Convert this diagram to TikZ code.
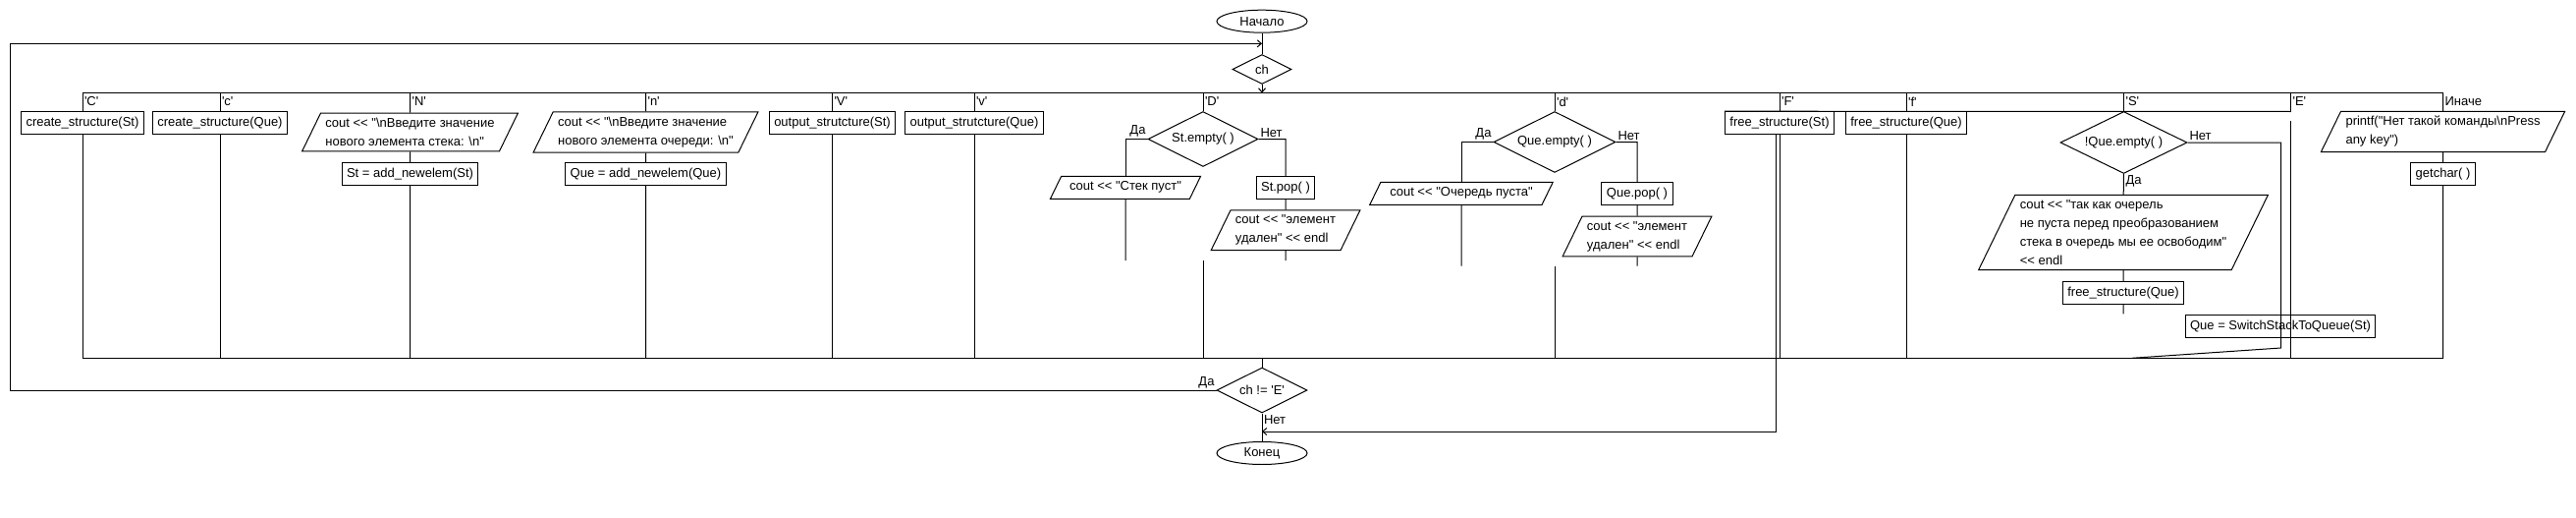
\documentclass[tikz,border=0pt]{standalone}
\usepackage{fontspec}
\newfontfamily\flowfont{Liberation Sans}
\usetikzlibrary{shapes.geometric,arrows.meta,positioning}

\begin{document}
\begin{tikzpicture}[x=1pt, y=-1pt, line width=1pt,
	font=\flowfont\fontsize{13}{19}\selectfont,
	term/.style={draw, ellipse, minimum width=92, minimum height=23, inner sep=0pt},
	proc/.style={draw, minimum height=22.6, inner xsep=5pt, inner ysep=0pt},
	io/.style={draw, trapezium, trapezium left angle=64, trapezium right angle=116,
		align=left, minimum height=23, inner xsep=5pt, inner ysep=5pt},
	dec/.style={draw, diamond, aspect=2, inner sep=0pt},
	lbl/.style={inner sep=1.5pt},
	flow/.style={-{Straight Barb[length=4pt, width=7pt]}}]
	\useasboundingbox (0,0) rectangle (2623,527);

	\node[term] (start) at (1285,21.7) {Начало};
	\node[dec, minimum width=60, minimum height=30] (ch) at (1285,70.5) {ch};
	\coordinate (looptop) at (1285,44.3);
	\coordinate (loopcorner) at (10.5,44.3);
	\coordinate (topbar) at (1285,94.5);
	\coordinate (botbar) at (1285,364.3);

	\node[proc] (crSt) at (84,125) {create\_structure(St)};
	\node[proc] (crQue) at (224,125) {create\_structure(Que)};
	\node[io] (addSt1) at (417.5,134.5) {cout << "\textbackslash nВведите значение\\нового элемента стека: \textbackslash n"};
	\node[proc] (addSt2) at (417.5,177) {St = add\_newelem(St)};
	\node[io] (addQue1) at (657.5,134.5) {cout << "\textbackslash nВведите значение\\нового элемента очереди: \textbackslash n"};
	\node[proc] (addQue2) at (657.5,177) {Que = add\_newelem(Que)};
	\node[proc] (outSt) at (847.5,125) {output\_strutcture(St)};
	\node[proc] (outQue) at (992,125) {output\_strutcture(Que)};

	\node[dec, minimum width=112, minimum height=56] (delSt) at (1225,141.5) {St.empty( )};
	\node[io] (delSt1) at (1146,190.8) {cout << "Стек пуст"};
	\node[proc] (delSt2) at (1309,191) {St.pop( )};
	\node[io] (delSt3) at (1309,234.3) {cout << "элемент\\удален" << endl};
	\coordinate (delStEnd) at (1225,265);

	\node[dec, minimum width=124, minimum height=62] (delQue) at (1583,144.5) {Que.empty( )};
	\node[io] (delQue1) at (1488,196.8) {cout << "Очередь пуста"};
	\node[proc] (delQue2) at (1667,196.8) {Que.pop( )};
	\node[io] (delQue3) at (1667,240.5) {cout << "элемент\\удален" << endl};
	\coordinate (delQueEnd) at (1583,270.7);

	\node[proc] (frSt) at (1812,125) {free\_structure(St)};
	\node[proc] (frQue) at (1941,125) {free\_structure(Que)};

	\node[dec, minimum width=129, minimum height=63] (sw) at (2162.5,145) {!Que.empty( )};
	\node[io] (sw1) at (2162,236.5) {cout << "так как очерель\\не пуста перед преобразованием\\стека в очередь мы ее освободим"\\<< endl};
	\node[proc] (sw2) at (2162,297.8) {free\_structure(Que)};
	\node[proc] (sw3) at (2322,332) {Que = SwitchStackToQueue(St)};
	\coordinate (swEnd) at (2162,319.3);
	\coordinate (swTurn) at (2322.5,354);
	\coordinate (swJoin) at (2171,364.3);

	\coordinate (exCorner) at (2332.5,113.5);
	\coordinate (exStart) at (2332.5,123.3);

	\node[io] (other1) at (2487.5,134) {printf("Нет такой команды\textbackslash nPress\\any key")};
	\node[proc] (other2) at (2487.5,177) {getchar( )};

	\node[dec, minimum width=92, minimum height=46] (cond) at (1285,397) {ch != 'E'};
	\node[term] (stop) at (1285,461) {Конец};
	\coordinate (quit) at (1808.3,439);

	\node[lbl, anchor=west] (kC) at (crSt.north |- 0,103.5) {'C'};
	\node[lbl, anchor=west] (kc) at (crQue.north |- 0,103.5) {'c'};
	\node[lbl, anchor=west] (kN) at (addSt1.north |- 0,103.5) {'N'};
	\node[lbl, anchor=west] (kn) at (addQue1.north |- 0,103.5) {'n'};
	\node[lbl, anchor=west] (kV) at (outSt.north |- 0,103.5) {'V'};
	\node[lbl, anchor=west] (kv) at (outQue.north |- 0,103.5) {'v'};
	\node[lbl, anchor=west] (kD) at (delSt.north |- 0,103.5) {'D'};
	\node[lbl, anchor=west] (kd) at (delQue.north |- 0,103.5) {'d'};
	\node[lbl, anchor=west] (kF) at (frSt.north |- 0,103.5) {'F'};
	\node[lbl, anchor=west] (kf) at (frQue.north |- 0,103.5) {'f'};
	\node[lbl, anchor=west] (kS) at (sw.north |- 0,103.5) {'S'};
	\node[lbl, anchor=west] (kE) at (exCorner |- 0,103.5) {'E'};
	\node[lbl, anchor=west] (kElse) at (other1.north |- 0,103.5) {Иначе};

	\node[lbl, anchor=south east] (delStYes) at (delSt.west) {Да};
	\node[lbl, anchor=south west] (delStNo) at (delSt.east) {Нет};
	\node[lbl, anchor=south east] (delQueYes) at (delQue.west) {Да};
	\node[lbl, anchor=south west] (delQueNo) at (delQue.east) {Нет};
	\node[lbl, anchor=south west] (swNo) at (sw.east) {Нет};
	\node[lbl, anchor=north west] (swYes) at (sw.south) {Да};
	\node[lbl, anchor=south east] (condYes) at (cond.west) {Да};
	\node[lbl, anchor=north west] (condNo) at (cond.south) {Нет};

	\draw (start) -- (ch);
	\draw[flow] (ch) -- (topbar);
	\draw (crSt.north |- topbar) -- (other1.north |- topbar);
	\draw (crSt.south |- botbar) -- (other2.south |- botbar);
	\draw (crSt.north |- topbar) -- (crSt) (crSt) -- (crSt.south |- botbar);
	\draw (crQue.north |- topbar) -- (crQue) (crQue) -- (crQue.south |- botbar);
	\draw (addSt1.north |- topbar) -- (addSt1) -- (addSt2) -- (addSt2.south |- botbar);
	\draw (addQue1.north |- topbar) -- (addQue1) -- (addQue2) -- (addQue2.south |- botbar);
	\draw (outSt.north |- topbar) -- (outSt) (outSt) -- (outSt.south |- botbar);
	\draw (outQue.north |- topbar) -- (outQue) (outQue) -- (outQue.south |- botbar);

	\draw (delSt.north |- topbar) -- (delSt);
	\draw (delSt.west) -| (delSt1);
	\draw (delSt1) -- (delSt1.south |- delStEnd);
	\draw (delSt.east) -| (delSt2) -- (delSt3) -- (delSt3.south |- delStEnd);
	\draw (delStEnd) -- (delStEnd |- botbar);

	\draw (delQue.north |- topbar) -- (delQue);
	\draw (delQue.west) -| (delQue1);
	\draw (delQue1) -- (delQue1.south |- delQueEnd);
	\draw (delQue.east) -| (delQue2) -- (delQue3) -- (delQue3.south |- delQueEnd);
	\draw (delQueEnd) -- (delQueEnd |- botbar);

	\draw (frSt.north |- topbar) -- (frSt) (frSt) -- (frSt.south |- botbar);
	\draw[flow] (frSt.south -| quit) -- (quit) -- (quit -| stop);
	\draw (frQue.north |- topbar) -- (frQue) (frQue) -- (frQue.south |- botbar);
	\draw (frSt.north west) -- (exCorner);

	\draw (sw.north |- topbar) -- (sw);
	\draw (sw) -- (sw1) -- (sw2) -- (swEnd);
	\draw (sw.east) -| (swTurn) -- (swJoin);

	\draw (exCorner |- topbar) -- (exCorner);
	\draw (exStart) -- (exStart |- botbar);

	\draw (other1.north |- topbar) -- (other1) -- (other2) -- (other2.south |- botbar);

	\draw (botbar) -- (cond);
	\draw (cond) -- (stop);
	\draw[flow] (cond.west) -| (loopcorner) -- (looptop);
\end{tikzpicture}
\end{document}
